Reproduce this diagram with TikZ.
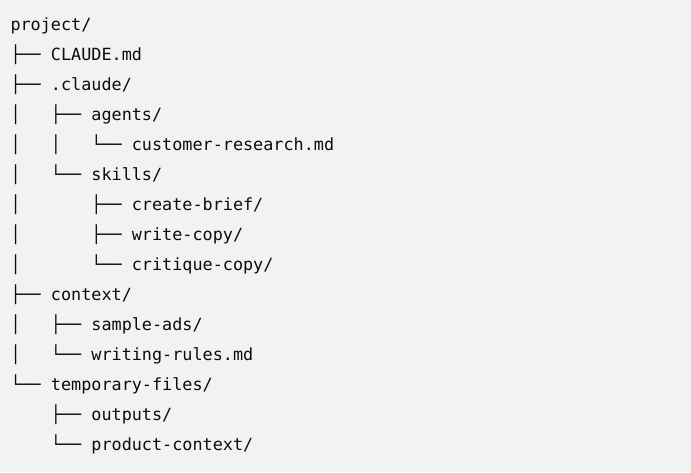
\documentclass[tikz,border=0pt]{standalone}
\usepackage{fontspec}
\setmonofont{DejaVu Sans Mono}
\usepackage{tikz}
\definecolor{blockgray}{RGB}{242,242,242}
\definecolor{codeink}{RGB}{12,12,12}
\tikzset{every picture/.style={line width=0.75pt}}
\tikzset{treeline/.style={anchor=base west,inner sep=0pt,text=codeink,font=\ttfamily\fontsize{12.6pt}{15pt}\selectfont}}

\begin{document}
\begin{tikzpicture}[x=0.75pt,y=0.75pt,yscale=-1,xscale=1]
%set diagram left start at 0, and has height of 472
\useasboundingbox (0,0) rectangle (691,472);

%Shape: Rectangle [id:block] 
\fill [blockgray] (0,0) rectangle (691,472);

% Text Node
\node (project) at (10,30.5) [treeline] {project/};
% Text Node
\node (claudemd) at (10,60.5) [treeline] {├──~CLAUDE.md};
% Text Node
\node (dotclaude) at (10,90.5) [treeline] {├──~.claude/};
% Text Node
\node (agents) at (10,120.5) [treeline] {│~~~├──~agents/};
% Text Node
\node (research) at (10,150.5) [treeline] {│~~~│~~~└──~customer-research.md};
% Text Node
\node (skills) at (10,180.5) [treeline] {│~~~└──~skills/};
% Text Node
\node (brief) at (10,210.5) [treeline] {│~~~~~~~├──~create-brief/};
% Text Node
\node (writecopy) at (10,240.5) [treeline] {│~~~~~~~├──~write-copy/};
% Text Node
\node (critique) at (10,270.5) [treeline] {│~~~~~~~└──~critique-copy/};
% Text Node
\node (context) at (10,300.5) [treeline] {├──~context/};
% Text Node
\node (sampleads) at (10,330.5) [treeline] {│~~~├──~sample-ads/};
% Text Node
\node (rules) at (10,360.5) [treeline] {│~~~└──~writing-rules.md};
% Text Node
\node (tempfiles) at (10,390.5) [treeline] {└──~temporary-files/};
% Text Node
\node (outputs) at (10,420.5) [treeline] {~~~~├──~outputs/};
% Text Node
\node (prodcontext) at (10,450.5) [treeline] {~~~~└──~product-context/};

\end{tikzpicture}
\end{document}
